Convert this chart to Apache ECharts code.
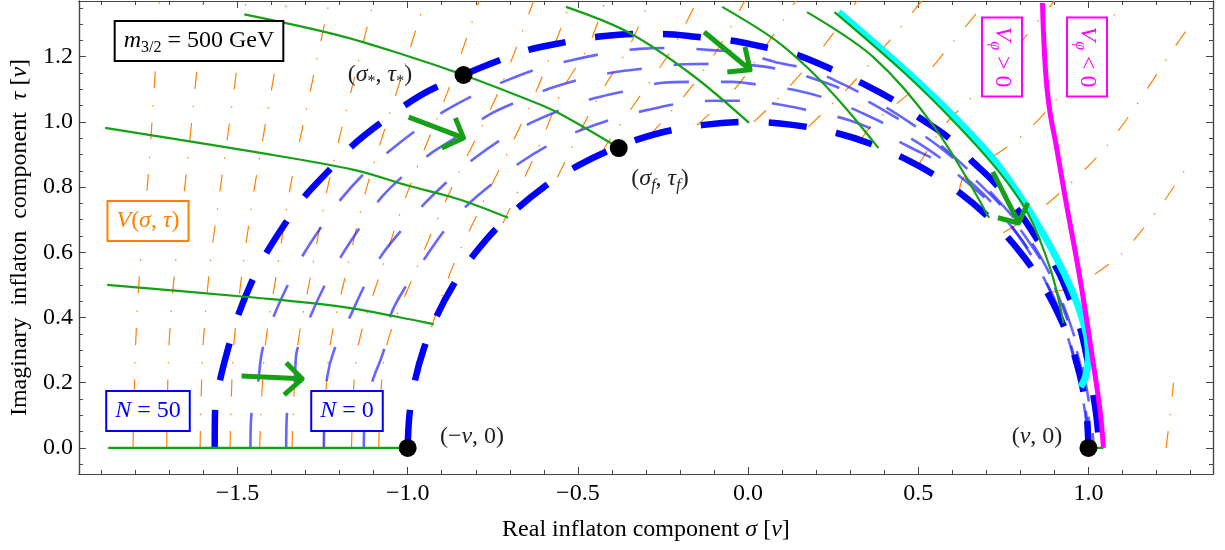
<!DOCTYPE html>
<html>
<head>
<meta charset="utf-8">
<script src="https://cdn.jsdelivr.net/npm/echarts@6/dist/echarts.min.js"></script>
<style>
  html, body { margin: 0; padding: 0; background: #fff; }
  #chart { width: 1225px; height: 550px; }
</style>
</head>
<body>
<div id="chart"></div>
<script>
// axis ranges and ticks
const xRange = [-1.966, 1.366];
const yRange = [-0.08, 1.371];
const xMajor = [-1.5, -1.0, -0.5, 0.0, 0.5, 1.0];
const xMinor = [-1.9, -1.8, -1.7, -1.6, -1.4, -1.3, -1.2, -1.1, -0.9, -0.8, -0.7, -0.6,
  -0.4, -0.3, -0.2, -0.1, 0.1, 0.2, 0.3, 0.4, 0.6, 0.7, 0.8, 0.9, 1.1, 1.2, 1.3];
const yMajor = [0.0, 0.2, 0.4, 0.6, 0.8, 1.0, 1.2];
const yMinor = [-0.05, 0.05, 0.1, 0.15, 0.25, 0.3, 0.35, 0.45, 0.5, 0.55, 0.65, 0.7, 0.75,
  0.85, 0.9, 0.95, 1.05, 1.1, 1.15, 1.25, 1.3, 1.35];

// e-fold curves N = 50 (outer) ... N = 0 (inner)
const curveN50 = [[-1.567, 0], [-1.566, 0.11], [-1.553, 0.2], [-1.529, 0.3], [-1.5, 0.402], [-1.456, 0.515],
  [-1.415, 0.598], [-1.357, 0.693], [-1.304, 0.77], [-1.23, 0.853], [-1.167, 0.923], [-1.079, 0.997],
  [-0.96, 1.083], [-0.836, 1.144], [-0.728, 1.19], [-0.646, 1.221], [-0.535, 1.245], [-0.45, 1.26],
  [-0.339, 1.27], [-0.251, 1.27], [-0.14, 1.26], [-0.05, 1.25], [0.06, 1.227], [0.143, 1.206],
  [0.251, 1.159], [0.327, 1.123], [0.427, 1.067], [0.5, 1.015], [0.59, 0.951], [0.655, 0.883],
  [0.722, 0.816], [0.792, 0.73], [0.851, 0.638], [0.909, 0.546], [0.947, 0.454], [0.975, 0.37],
  [0.995, 0.28], [1.01, 0.19], [1.022, 0.11], [1.03, 0.03], [1.032, 0]];
const curveN40 = [[-1.462, 0], [-1.459, 0.107], [-1.44, 0.2], [-1.427, 0.3], [-1.392, 0.408], [-1.348, 0.509],
  [-1.304, 0.598], [-1.246, 0.69], [-1.193, 0.767], [-1.123, 0.847], [-1.05, 0.914], [-0.968, 0.98],
  [-0.886, 1.037], [-0.792, 1.089], [-0.705, 1.129], [-0.608, 1.166], [-0.515, 1.19], [-0.412, 1.212],
  [-0.319, 1.224], [-0.213, 1.227], [-0.12, 1.221], [-0.018, 1.212], [0.079, 1.184], [0.181, 1.16],
  [0.28, 1.115], [0.38, 1.06], [0.48, 0.995], [0.57, 0.925], [0.65, 0.85], [0.73, 0.765], [0.8, 0.68],
  [0.86, 0.585], [0.91, 0.48], [0.95, 0.37], [0.98, 0.26], [1.0, 0.15], [1.012, 0.05], [1.015, 0]];
const curveN30 = [[-1.357, 0], [-1.355, 0.1], [-1.333, 0.2], [-1.325, 0.3], [-1.284, 0.408], [-1.24, 0.506],
  [-1.193, 0.592], [-1.135, 0.684], [-1.076, 0.77], [-1.003, 0.844], [-0.93, 0.905], [-0.86, 0.951],
  [-0.763, 1.021], [-0.667, 1.067], [-0.579, 1.104], [-0.477, 1.135], [-0.389, 1.153], [-0.287, 1.166],
  [-0.187, 1.177], [-0.09, 1.178], [0.0, 1.175], [0.1, 1.16], [0.2, 1.13], [0.3, 1.09], [0.4, 1.035],
  [0.5, 0.97], [0.59, 0.9], [0.67, 0.82], [0.75, 0.735], [0.82, 0.64], [0.88, 0.54], [0.925, 0.43],
  [0.96, 0.32], [0.985, 0.21], [1.0, 0.1], [1.005, 0]];
const curveN20 = [[-1.246, 0], [-1.245, 0.1], [-1.237, 0.215], [-1.216, 0.3], [-1.167, 0.408], [-1.123, 0.506],
  [-1.076, 0.592], [-1.01, 0.678], [-0.95, 0.75], [-0.87, 0.83], [-0.798, 0.893], [-0.713, 0.954],
  [-0.632, 1.0], [-0.535, 1.043], [-0.447, 1.074], [-0.345, 1.098], [-0.251, 1.12], [-0.143, 1.123],
  [-0.047, 1.123], [0.055, 1.11], [0.15, 1.095], [0.25, 1.065], [0.34, 1.025], [0.436, 0.975],
  [0.53, 0.915], [0.62, 0.845], [0.7, 0.77], [0.77, 0.685], [0.83, 0.595], [0.885, 0.49], [0.93, 0.38],
  [0.96, 0.27], [0.985, 0.16], [0.998, 0.06], [1.0, 0]];
const curveN10 = [[-1.129, 0], [-1.125, 0.1], [-1.105, 0.2], [-1.07, 0.3], [-1.05, 0.408], [-1.003, 0.5],
  [-0.947, 0.586], [-0.886, 0.675], [-0.82, 0.75], [-0.74, 0.82], [-0.667, 0.877], [-0.573, 0.936],
  [-0.491, 0.975], [-0.389, 1.012], [-0.295, 1.037], [-0.193, 1.058], [-0.1, 1.065], [0.0, 1.065],
  [0.1, 1.052], [0.2, 1.03], [0.295, 1.006], [0.392, 0.966], [0.48, 0.92], [0.576, 0.868], [0.66, 0.8],
  [0.74, 0.72], [0.81, 0.63], [0.865, 0.53], [0.91, 0.425], [0.945, 0.32], [0.97, 0.215], [0.99, 0.11],
  [1.0, 0]];
const curveN0 = [[-1.0, 0], [-0.995, 0.1], [-0.98, 0.2], [-0.954, 0.3], [-0.914, 0.406], [-0.866, 0.5],
  [-0.8, 0.6], [-0.714, 0.7], [-0.6, 0.8], [-0.5, 0.866], [-0.38, 0.925], [-0.26, 0.966], [-0.13, 0.991],
  [0.0, 1.0], [0.13, 0.991], [0.26, 0.966], [0.38, 0.925], [0.5, 0.866], [0.6, 0.8], [0.7, 0.714],
  [0.8, 0.6], [0.866, 0.5], [0.914, 0.406], [0.954, 0.3], [0.98, 0.2], [0.995, 0.1], [1.0, 0]];

// contours of V(sigma, tau)
const contourLines = [
  [[-1.807, 0], [-1.8, 0.3], [-1.787, 0.55], [-1.765, 0.8], [-1.745, 1.1], [-1.73, 1.371]],
  [[-1.708, 0], [-1.702, 0.3], [-1.684, 0.55], [-1.655, 0.8], [-1.625, 1.1], [-1.6, 1.371]],
  [[-1.61, 0], [-1.602, 0.3], [-1.582, 0.55], [-1.55, 0.8], [-1.51, 1.1], [-1.475, 1.371]],
  [[-1.522, 0], [-1.512, 0.3], [-1.485, 0.55], [-1.45, 0.8], [-1.4, 1.1], [-1.355, 1.371]],
  [[-1.435, 0], [-1.42, 0.3], [-1.383, 0.55], [-1.345, 0.8], [-1.285, 1.1], [-1.23, 1.371]],
  [[-1.34, 0], [-1.325, 0.3], [-1.281, 0.55], [-1.235, 0.8], [-1.165, 1.1], [-1.1, 1.371]],
  [[-1.248, 0], [-1.23, 0.3], [-1.178, 0.55], [-1.12, 0.8], [-1.03, 1.1], [-0.95, 1.371]],
  [[-1.165, 0], [-1.148, 0.3], [-1.076, 0.55], [-0.995, 0.8], [-0.88, 1.1], [-0.79, 1.371]],
  [[-1.085, 0], [-1.065, 0.3], [-0.974, 0.55], [-0.87, 0.8], [-0.73, 1.1], [-0.63, 1.371]],
  [[-0.93, 0.37], [-0.87, 0.55], [-0.78, 0.75], [-0.7, 0.92], [-0.62, 1.1], [-0.52, 1.371]],
  [[-0.72, 0.69], [-0.608, 0.94], [-0.545, 1.1], [-0.47, 1.23], [-0.42, 1.371]],
  [[-0.56, 0.83], [-0.509, 0.94], [-0.427, 1.1], [-0.35, 1.23], [-0.29, 1.371]],
  [[-0.43, 0.905], [-0.41, 0.94], [-0.304, 1.1], [-0.22, 1.23], [-0.15, 1.371]],
  [[-0.29, 0.957], [-0.172, 1.1], [-0.085, 1.23], [-0.01, 1.371]],
  [[-0.15, 0.99], [-0.04, 1.1], [0.05, 1.23], [0.14, 1.371]],
  [[0.017, 1.0], [0.114, 1.1], [0.22, 1.23], [0.32, 1.371]],
  [[0.177, 0.985], [0.29, 1.1], [0.4, 1.23], [0.51, 1.371]],
  [[0.33, 0.945], [0.373, 1.0], [0.485, 1.1], [0.59, 1.23], [0.7, 1.371]],
  [[0.5, 0.866], [0.573, 0.985], [0.68, 1.1], [0.807, 1.252], [0.9, 1.371]],
  [[0.62, 0.785], [0.635, 0.831], [0.801, 0.954], [0.904, 1.067], [1.0, 1.2], [1.1, 1.371]],
  [[0.75, 0.66], [0.874, 0.745], [1.026, 0.893], [1.117, 1.015], [1.232, 1.196], [1.3, 1.3]],
  [[0.88, 0.475], [0.968, 0.5], [1.094, 0.592], [1.158, 0.669], [1.219, 0.752], [1.3, 0.88]],
  [[1.228, 0], [1.24, 0.1], [1.25, 0.2]]
];

// inflaton trajectories
const flowLines = [
  [[-1.88, 0], [-1.0, 0]],
  [[-1.883, 0.5], [-1.471, 0.463], [-1.187, 0.432], [-0.953, 0.386], [-0.924, 0.38]],
  [[-1.889, 0.982], [-1.45, 0.908], [-1.158, 0.853], [-1.0, 0.805], [-0.85, 0.763], [-0.705, 0.706]],
  [[-1.48, 1.33], [-1.208, 1.267], [-1.012, 1.206], [-0.836, 1.144], [-0.661, 1.074], [-0.564, 1.031], [-0.38, 0.92]],
  [[-0.535, 1.353], [-0.348, 1.273], [-0.164, 1.144], [0.003, 0.997]],
  [[-0.076, 1.353], [0.079, 1.252], [0.181, 1.16], [0.284, 1.046], [0.383, 0.92]],
  [[0.173, 1.337], [0.368, 1.199], [0.547, 0.985], [0.708, 0.706]],
  [[0.254, 1.337], [0.46, 1.15], [0.615, 0.99], [0.735, 0.85], [0.822, 0.72], [0.889, 0.546], [0.927, 0.383]],
  [[1.0, 0], [1.044, 0]]
];
const arrowShafts = [
  [[-1.488, 0.221], [-1.31, 0.212]],
  [[-0.997, 1.015], [-0.836, 0.951]],
  [[-0.129, 1.276], [0.006, 1.16]],
  [[0.719, 0.847], [0.795, 0.69]]
];
const arrowHeads = [
  [[-1.357, 0.261], [-1.31, 0.212], [-1.363, 0.163]],
  [[-0.86, 1.012], [-0.836, 0.951], [-0.9, 0.92]],
  [[-0.009, 1.23], [0.006, 1.16], [-0.061, 1.153]],
  [[0.822, 0.752], [0.795, 0.69], [0.734, 0.706]]
];
const cyanCurve = [[0.266, 1.337], [0.471, 1.15], [0.62, 1.0], [0.74, 0.86], [0.86, 0.669],
  [0.947, 0.494], [0.991, 0.362], [1.0, 0.279], [0.991, 0.218], [0.977, 0.187]];
const magentaCurve = [[0.865, 1.365], [0.869, 1.25], [0.876, 1.13], [0.887, 1.03], [0.905, 0.93],
  [0.932, 0.767], [0.976, 0.515], [1.014, 0.261], [1.035, 0.107], [1.044, 0]];
const specialPoints = [[-1.0, 0], [1.0, 0], [-0.836, 1.144], [-0.38, 0.92]];

const serif = '"Liberation Serif", "DejaVu Serif", serif';
const frameColor = '#444';

const chart = echarts.init(document.getElementById('chart'), null, { renderer: 'canvas' });

function lineSeries(data, color, width, dash, z, smooth) {
  return {
    type: 'line', data: data, xAxisIndex: 0, yAxisIndex: 0,
    symbol: 'none', showSymbol: false, silent: true, clip: true,
    smooth: smooth === undefined ? 0.35 : smooth, z: z,
    lineStyle: { color: color, width: width, type: dash || 'solid', cap: 'butt', join: 'round', opacity: 1 },
    animation: false
  };
}

const series = [];
contourLines.forEach(c => series.push(lineSeries(c, '#ff8000', 1.2, [17, 16, 1.5, 17], 2, 0.3)));
[curveN40, curveN30, curveN20, curveN10].forEach(c =>
  series.push(lineSeries(c, 'rgba(30,30,255,0.68)', 2.6, [35, 32], 3)));
[curveN50, curveN0].forEach(c => series.push(lineSeries(c, '#0000ff', 6.5, [38, 30], 4)));
series.push(lineSeries(cyanCurve, '#00ffff', 7, 'solid', 5));
flowLines.forEach(c => series.push(lineSeries(c, '#16a016', 2.2, 'solid', 6)));
series.push(lineSeries(magentaCurve, '#ff00ff', 5, 'solid', 6, 0.4));
arrowShafts.forEach(c => series.push(lineSeries(c, '#16a016', 5, 'solid', 7, false)));
arrowHeads.forEach(c => series.push(lineSeries(c, '#16a016', 5, 'solid', 7, false)));
series.push({
  type: 'scatter', data: specialPoints, symbol: 'circle', symbolSize: 18,
  itemStyle: { color: '#000', opacity: 1 }, z: 8, silent: true, animation: false
});

function labelFmt(v) {
  return (v < 0 ? '\u2212' : '') + Math.abs(v).toFixed(1);
}

function xAxisDef(position, ticks, len, withLabels) {
  return {
    type: 'value', position: position, min: xRange[0], max: xRange[1],
    axisLine: { show: true, onZero: false, lineStyle: { color: frameColor, width: 1.2 } },
    axisTick: { show: true, inside: true, length: len, customValues: ticks, lineStyle: { color: frameColor, width: 1 } },
    axisLabel: withLabels ? {
      show: true, customValues: ticks, formatter: labelFmt, margin: 8,
      fontFamily: serif, fontSize: 24, color: '#000'
    } : { show: false },
    splitLine: { show: false }
  };
}
function yAxisDef(position, ticks, len, withLabels) {
  return {
    type: 'value', position: position, min: yRange[0], max: yRange[1],
    axisLine: { show: true, onZero: false, lineStyle: { color: frameColor, width: 1.2 } },
    axisTick: { show: true, inside: true, length: len, customValues: ticks, lineStyle: { color: frameColor, width: 1 } },
    axisLabel: withLabels ? {
      show: true, customValues: ticks, formatter: labelFmt, margin: 6,
      fontFamily: serif, fontSize: 24, color: '#000'
    } : { show: false },
    splitLine: { show: false }
  };
}

const xMain = xAxisDef('bottom', xMajor, 7, true);
xMain.name = 'Real inflaton component {i|σ} [{i|v}]';
xMain.nameLocation = 'middle';
xMain.nameGap = 44;
xMain.nameTextStyle = {
  fontFamily: serif, fontSize: 24, color: '#000',
  rich: { i: { fontFamily: serif, fontSize: 24, fontStyle: 'italic', color: '#000' } }
};
const yMain = yAxisDef('left', yMajor, 7, true);
yMain.name = 'Imaginary  inflaton  component  {i|τ} [{i|v}]';
yMain.nameLocation = 'middle';
yMain.nameGap = 40;
yMain.nameTextStyle = {
  fontFamily: serif, fontSize: 24, color: '#000',
  rich: { i: { fontFamily: serif, fontSize: 24, fontStyle: 'italic', color: '#000' } }
};

const richBase = {
  r: { fontFamily: serif, fontSize: 24, lineHeight: 30 },
  i: { fontFamily: serif, fontSize: 24, fontStyle: 'italic', lineHeight: 30 },
  s: { fontFamily: serif, fontSize: 16, lineHeight: 16, verticalAlign: 'bottom' },
  si: { fontFamily: serif, fontSize: 16, fontStyle: 'italic', lineHeight: 16, verticalAlign: 'bottom' }
};
function richFor(color) {
  const out = {};
  Object.keys(richBase).forEach(k => { out[k] = Object.assign({ fill: color }, richBase[k]); });
  return out;
}

function label(x, y, text, color, box, extra) {
  const style = {
    text: text, x: 0, y: 0, align: 'center', verticalAlign: 'middle',
    fontFamily: serif, fontSize: 24, fill: color, rich: richFor(color)
  };
  if (box) {
    style.backgroundColor = '#fff';
    style.borderColor = box;
    style.borderWidth = 2;
    style.padding = [4, 8, 4, 8];
  }
  return Object.assign({ type: 'text', x: x, y: y, z: 100, silent: true, style: style }, extra || {});
}

const graphics = [
  label(199, 41, '{i|m}{s|3/2}{r| = 500 GeV}', '#000', '#000'),
  label(380, 75, '{r|(}{i|σ}{s|*}{r|, }{i|τ}{s|*}{r|)}', '#222', null),
  label(660, 179, '{r|(}{i|σ}{si|f}{r|, }{i|τ}{si|f}{r|)}', '#222', null),
  label(148, 221, '{i|V}{r|(}{i|σ}{r|, }{i|τ}{r|)}', '#ff8000', '#ff8000'),
  label(148, 411, '{i|N}{r| = 50}', '#0000ff', '#0000ff'),
  label(347, 411, '{i|N}{r| = 0}', '#0000ff', '#0000ff'),
  label(472, 437, '{r|(\u2212}{i|v}{r|, 0)}', '#222', null),
  label(1037, 437, '{r|(}{i|v}{r|, 0)}', '#222', null),
  label(1002, 57, '{i|V}{si|φ}{r| > 0}', '#ff00ff', '#ff00ff', { rotation: -Math.PI / 2 }),
  label(1087, 57, '{i|V}{si|φ}{r| < 0}', '#ff00ff', '#ff00ff', { rotation: -Math.PI / 2 })
];

chart.setOption({
  animation: false,
  backgroundColor: '#fff',
  grid: { left: 74, right: 12, top: 1, bottom: 76, containLabel: false },
  xAxis: [
    xMain,
    xAxisDef('bottom', xMinor, 4, false),
    xAxisDef('top', xMajor, 7, false),
    xAxisDef('top', xMinor, 4, false)
  ],
  yAxis: [
    yMain,
    yAxisDef('left', yMinor, 4, false),
    yAxisDef('right', yMajor, 7, false),
    yAxisDef('right', yMinor, 4, false)
  ],
  series: series,
  graphic: graphics
});
</script>
</body>
</html>
